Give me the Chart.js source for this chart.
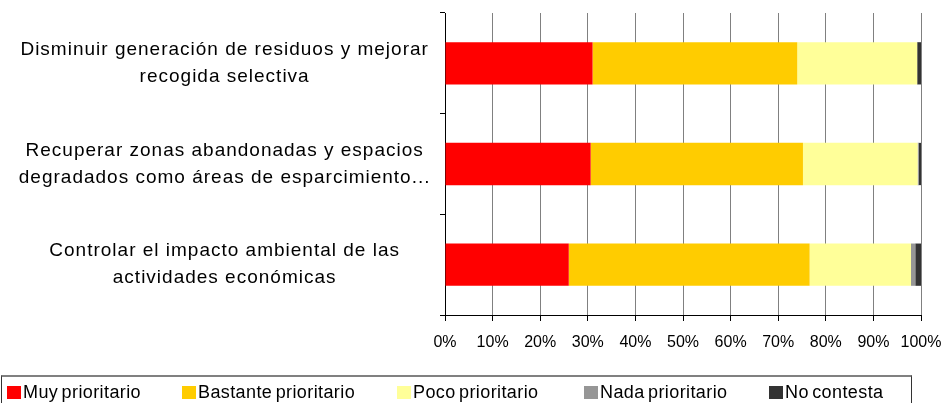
<!DOCTYPE html>
<html>
<head>
<meta charset="utf-8">
<script src="https://cdn.jsdelivr.net/npm/chart.js@4"></script>
<style>
  html, body { margin: 0; padding: 0; background: #fff; }
  #wrap { position: relative; width: 944px; height: 403px; overflow: hidden; }
  #legend {
    position: absolute; left: 1px; top: 375px; width: 911px; height: 29px;
    border: 1px solid #333; border-top: 2px solid #808080; box-sizing: border-box;
    display: grid; grid-template-columns: 175px 215px 187px 185px auto; align-items: center;
    padding-left: 5px; padding-top: 3px;
    font-family: "Liberation Sans", Arial, sans-serif; font-size: 18px; color: #000;
    letter-spacing: 0.4px; word-spacing: -2px; line-height: 1;
  }
  #legend span.item { display: flex; align-items: center; white-space: nowrap; }
  #legend i { display: inline-block; width: 14px; height: 13px; margin-right: 2px; margin-top: 1px; }
</style>
</head>
<body>
<div id="wrap">
  <canvas id="chart" width="944" height="403"></canvas>
  <div id="legend"></div>
</div>
<script>
const categories = [
  ['Disminuir generación de residuos y mejorar', 'recogida selectiva'],
  ['Recuperar zonas abandonadas y espacios', 'degradados como áreas de esparcimiento...'],
  ['Controlar el impacto ambiental de las', 'actividades económicas']
];
const seriesNames = ['Muy prioritario', 'Bastante prioritario', 'Poco prioritario', 'Nada prioritario', 'No contesta'];
const seriesColors = ['#ff0000', '#ffcc00', '#ffff99', '#969696', '#333333'];
const muyPrioritario = [31.0, 30.6, 26.0];
const bastantePrioritario = [43.0, 44.6, 50.6];
const pocoPrioritario = [25.2, 24.1, 21.3];
const nadaPrioritario = [0.0, 0.2, 0.9];
const noContesta = [0.8, 0.5, 1.2];
const xTicks = [0, 10, 20, 30, 40, 50, 60, 70, 80, 90, 100];

const values = [muyPrioritario, bastantePrioritario, pocoPrioritario, nadaPrioritario, noContesta];
const font = "'Liberation Sans', Arial, sans-serif";

const ctx = document.getElementById('chart').getContext('2d');
const chart = new Chart(ctx, {
  type: 'bar',
  data: {
    labels: categories,
    datasets: seriesNames.map((name, i) => ({
      label: name,
      data: values[i],
      backgroundColor: seriesColors[i],
      borderWidth: 0,
      categoryPercentage: 1,
      barPercentage: 0.42
    }))
  },
  options: {
    responsive: false,
    animation: false,
    indexAxis: 'y',
    layout: { padding: { top: 13, right: 23, left: 0, bottom: 48 } },
    scales: {
      x: {
        stacked: true,
        min: 0,
        max: 100,
        afterBuildTicks: (axis) => { axis.ticks = xTicks.map(v => ({ value: v })); },
        afterFit: (axis) => { axis.height = 40; axis.paddingLeft = 0; axis.paddingRight = 0; },
        border: { color: '#000', width: 1 },
        grid: { color: '#808080', tickColor: '#000', tickLength: 6, lineWidth: 1 },
        ticks: {
          color: '#000',
          padding: 12,
          font: { family: font, size: 16 },
          callback: (v) => v + '%',
          maxRotation: 0
        }
      },
      y: {
        stacked: true,
        afterFit: (axis) => { axis.width = 445; axis.paddingTop = 0; axis.paddingBottom = 0; },
        border: { color: '#000', width: 1 },
        grid: { drawOnChartArea: false, offset: true, tickColor: '#000', tickLength: 5 },
        ticks: {
          color: '#000',
          padding: 30,
          crossAlign: 'center',
          font: { family: font, size: 19, lineHeight: 1.42 }
        }
      }
    },
    plugins: {
      legend: { display: false },
      tooltip: { enabled: false }
    }
  }
});

// slightly wider letter spacing for the category labels, like the original
const yScale = chart.scales.y;
const baseDrawLabels = yScale.drawLabels.bind(yScale);
yScale.drawLabels = function (area) {
  ctx.save();
  ctx.letterSpacing = '1px';
  baseDrawLabels(area);
  ctx.restore();
};
chart.draw();

const legend = document.getElementById('legend');
seriesNames.forEach((name, i) => {
  const item = document.createElement('span');
  item.className = 'item';
  item.innerHTML = '<i style="background:' + seriesColors[i] + '"></i>' + name;
  legend.appendChild(item);
});
</script>
</body>
</html>
